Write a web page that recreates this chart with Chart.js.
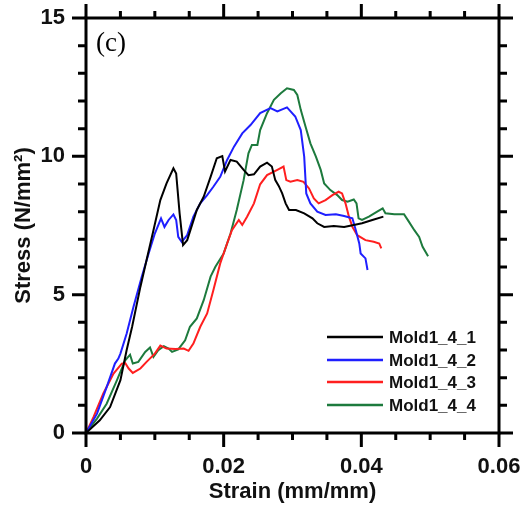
<!DOCTYPE html>
<html>
<head>
<meta charset="utf-8">
<script src="https://cdn.jsdelivr.net/npm/chart.js@4/dist/chart.umd.min.js"></script>
<style>
  html, body { margin: 0; padding: 0; background: #fff; }
  #wrap { width: 524px; height: 514px; }
</style>
</head>
<body>
<div id="wrap"><canvas id="c" width="524" height="514"></canvas></div>
<script>
// Tensile test curves, Mold1_4 specimens
const seriesNames = ['Mold1_4_1', 'Mold1_4_2', 'Mold1_4_3', 'Mold1_4_4'];

const strain1 = [0, 0.0020, 0.0035, 0.0050, 0.0059, 0.0067, 0.0079, 0.0088, 0.0098, 0.0108, 0.0117, 0.0127, 0.0131, 0.0136, 0.0141, 0.0147, 0.0161, 0.0171, 0.0181, 0.0190, 0.0198, 0.0202, 0.0210, 0.0219, 0.0229, 0.0236, 0.0244, 0.0253, 0.0263, 0.0270, 0.0275, 0.0280, 0.0285, 0.0290, 0.0295, 0.0305, 0.0317, 0.0329, 0.0336, 0.0346, 0.0360, 0.0375, 0.0389, 0.0401, 0.0416, 0.0432];
const stress1 = [0, 0.46, 0.94, 1.91, 2.99, 3.84, 5.28, 6.25, 7.33, 8.42, 9.02, 9.57, 9.38, 7.94, 6.79, 6.97, 8.06, 8.54, 9.26, 9.93, 10.01, 9.45, 9.87, 9.81, 9.51, 9.32, 9.35, 9.63, 9.77, 9.63, 9.14, 8.93, 8.66, 8.30, 8.06, 8.06, 7.94, 7.76, 7.58, 7.45, 7.48, 7.45, 7.52, 7.58, 7.70, 7.82];

const strain2 = [0, 0.0016, 0.0030, 0.0042, 0.0047, 0.0050, 0.0059, 0.0069, 0.0081, 0.0091, 0.0100, 0.0109, 0.0114, 0.0120, 0.0127, 0.0131, 0.0134, 0.0139, 0.0147, 0.0156, 0.0166, 0.0176, 0.0185, 0.0195, 0.0205, 0.0215, 0.0227, 0.0239, 0.0253, 0.0268, 0.0278, 0.0292, 0.0304, 0.0312, 0.0317, 0.0320, 0.0326, 0.0336, 0.0348, 0.0363, 0.0375, 0.0387, 0.0392, 0.0397, 0.0399, 0.0406, 0.0409];
const stress2 = [0, 0.70, 1.66, 2.51, 2.69, 2.87, 3.59, 4.56, 5.65, 6.49, 7.21, 7.76, 7.45, 7.70, 7.90, 7.70, 7.09, 6.91, 7.15, 7.82, 8.30, 8.60, 8.90, 9.26, 9.87, 10.35, 10.83, 11.13, 11.56, 11.74, 11.62, 11.77, 11.44, 10.95, 9.99, 8.66, 8.30, 8.00, 7.88, 7.91, 7.84, 7.76, 7.33, 6.85, 6.49, 6.31, 5.89];

const strain3 = [0, 0.0011, 0.0025, 0.0040, 0.0052, 0.0057, 0.0062, 0.0068, 0.0079, 0.0088, 0.0100, 0.0108, 0.0117, 0.0130, 0.0142, 0.0149, 0.0156, 0.0166, 0.0176, 0.0185, 0.0195, 0.0205, 0.0212, 0.0222, 0.0227, 0.0234, 0.0244, 0.0253, 0.0263, 0.0278, 0.0287, 0.0291, 0.0297, 0.0307, 0.0316, 0.0324, 0.0331, 0.0338, 0.0348, 0.0358, 0.0367, 0.0372, 0.0377, 0.0382, 0.0387, 0.0394, 0.0406, 0.0418, 0.0426, 0.0429];
const stress3 = [0, 0.58, 1.42, 2.15, 2.51, 2.53, 2.33, 2.17, 2.33, 2.57, 2.87, 3.16, 3.05, 3.04, 3.05, 2.97, 3.23, 3.84, 4.32, 5.16, 6.13, 6.85, 7.33, 7.70, 7.52, 7.82, 8.30, 8.99, 9.32, 9.51, 9.63, 9.14, 9.08, 9.14, 9.08, 8.84, 8.48, 8.30, 8.42, 8.60, 8.72, 8.66, 8.30, 7.82, 7.45, 7.15, 6.97, 6.91, 6.85, 6.67];

const strain4 = [0, 0.0016, 0.0030, 0.0045, 0.0057, 0.0064, 0.0068, 0.0076, 0.0086, 0.0093, 0.0098, 0.0105, 0.0113, 0.0120, 0.0125, 0.0134, 0.0144, 0.0151, 0.0161, 0.0171, 0.0181, 0.0188, 0.0200, 0.0210, 0.0219, 0.0229, 0.0236, 0.0241, 0.0249, 0.0253, 0.0263, 0.0273, 0.0283, 0.0292, 0.0302, 0.0307, 0.0312, 0.0319, 0.0326, 0.0334, 0.0341, 0.0346, 0.0355, 0.0365, 0.0372, 0.0380, 0.0389, 0.0393, 0.0396, 0.0401, 0.0411, 0.0423, 0.0431, 0.0435, 0.0448, 0.0462, 0.0469, 0.0477, 0.0484, 0.0489, 0.0497];
const stress4 = [0, 0.52, 1.06, 1.91, 2.63, 2.83, 2.51, 2.57, 2.93, 3.09, 2.75, 2.99, 3.14, 3.05, 2.93, 3.02, 3.35, 3.84, 4.14, 4.80, 5.65, 6.01, 6.49, 7.21, 8.06, 9.14, 10.11, 10.41, 10.41, 10.95, 11.56, 12.04, 12.28, 12.46, 12.40, 12.22, 11.68, 11.07, 10.47, 9.99, 9.51, 9.02, 8.78, 8.60, 8.42, 8.36, 8.44, 8.30, 7.76, 7.70, 7.82, 8.00, 8.12, 7.94, 7.91, 7.91, 7.64, 7.33, 7.09, 6.73, 6.39];

// Axis ranges and tick spacing
const xMin = 0, xMax = 0.06, xMajor = 0.02, xMinor = 0.005;
const yMin = 0, yMax = 15, yMajor = 5, yMinor = 1;
const xTitle = 'Strain (mm/mm)';
const yTitle = 'Stress (N/mm\u00B2)';
const panelLabel = '(c)';

const colors = ['#000000', '#1f1fff', '#ff1f1f', '#1d7a3d'];
const strains = [strain1, strain2, strain3, strain4];
const stresses = [stress1, stress2, stress3, stress4];

const toPoints = (xs, ys) => xs.map((x, i) => ({ x: x, y: ys[i] }));

const datasets = seriesNames.map((name, i) => ({
  label: name,
  data: toPoints(strains[i], stresses[i]),
  borderColor: colors[i],
  backgroundColor: colors[i],
  borderWidth: 2,
  pointRadius: 0,
  tension: 0,
  fill: false
}));

const SANS = '"Liberation Sans", Arial, sans-serif';

// Boxed frame with outward major/minor ticks on all four sides
const framePlugin = {
  id: 'frame',
  afterDatasetsDraw(chart) {
    const { ctx, chartArea: a, scales: { x, y } } = chart;
    ctx.save();
    ctx.strokeStyle = '#000';
    ctx.lineWidth = 3;
    ctx.lineCap = 'butt';
    ctx.beginPath();
    ctx.rect(a.left, a.top, a.right - a.left, a.bottom - a.top);
    ctx.stroke();
    const majorLen = 14, minorLen = 7;
    const nx = Math.round((xMax - xMin) / xMinor);
    for (let i = 0; i <= nx; i++) {
      const v = xMin + i * xMinor;
      const px = x.getPixelForValue(v);
      const isMajor = i % Math.round(xMajor / xMinor) === 0;
      const len = isMajor ? majorLen : minorLen;
      ctx.beginPath();
      ctx.moveTo(px, a.bottom); ctx.lineTo(px, a.bottom + len);
      ctx.moveTo(px, a.top); ctx.lineTo(px, a.top - len);
      ctx.stroke();
    }
    const ny = Math.round((yMax - yMin) / yMinor);
    for (let i = 0; i <= ny; i++) {
      const v = yMin + i * yMinor;
      const py = y.getPixelForValue(v);
      const isMajor = i % Math.round(yMajor / yMinor) === 0;
      const len = isMajor ? majorLen : minorLen + 1;
      ctx.beginPath();
      ctx.moveTo(a.left, py); ctx.lineTo(a.left - len, py);
      ctx.moveTo(a.right, py); ctx.lineTo(a.right + len, py);
      ctx.stroke();
    }
    ctx.restore();
  }
};

// Panel letter and line legend inside the plot
const annotatePlugin = {
  id: 'annotate',
  afterDraw(chart) {
    const { ctx } = chart;
    ctx.save();
    ctx.fillStyle = '#000';
    ctx.font = '27px "Liberation Serif", "Times New Roman", serif';
    ctx.textAlign = 'left';
    ctx.textBaseline = 'middle';
    ctx.fillText(panelLabel, 96, 44);

    const rows = [337, 360, 382, 405];
    ctx.font = 'bold 17px ' + SANS;
    chart.data.datasets.forEach((ds, i) => {
      const yy = rows[i];
      ctx.strokeStyle = ds.borderColor;
      ctx.lineWidth = 2.5;
      ctx.beginPath();
      ctx.moveTo(327, yy); ctx.lineTo(383, yy);
      ctx.stroke();
      ctx.fillStyle = '#111';
      ctx.fillText(ds.label, 389, yy + 1);
    });
    ctx.restore();
  }
};

new Chart(document.getElementById('c'), {
  type: 'line',
  data: { datasets: datasets },
  plugins: [framePlugin, annotatePlugin],
  options: {
    responsive: false,
    animation: false,
    parsing: true,
    layout: { padding: { left: 0, right: 25, top: 18, bottom: 0 } },
    plugins: { legend: { display: false }, tooltip: { enabled: false } },
    scales: {
      x: {
        type: 'linear',
        min: xMin, max: xMax,
        afterFit: s => { s.height = 81; s.paddingLeft = 0; s.paddingRight = 0; },
        border: { display: false },
        grid: { display: false, drawTicks: false, tickLength: 0 },
        ticks: {
          stepSize: xMajor,
          padding: 21,
          color: '#111',
          maxRotation: 0,
          font: { family: SANS, size: 22, weight: 'bold' },
          callback: v => (Math.abs(v) < 1e-9 ? '0' : v.toFixed(2))
        },
        title: {
          display: true,
          text: xTitle,
          color: '#111',
          font: { family: SANS, size: 22, weight: 'bold', lineHeight: 1 },
          padding: { top: 0, bottom: 11 }
        }
      },
      y: {
        type: 'linear',
        min: yMin, max: yMax,
        afterFit: s => { s.width = 86; s.paddingTop = 0; s.paddingBottom = 0; },
        border: { display: false },
        grid: { display: false, drawTicks: false, tickLength: 0 },
        ticks: {
          stepSize: yMajor,
          padding: 21,
          color: '#111',
          font: { family: SANS, size: 22, weight: 'bold' }
        },
        title: {
          display: true,
          text: yTitle,
          color: '#111',
          font: { family: SANS, size: 22, weight: 'bold', lineHeight: 1 },
          padding: { top: 13, bottom: 0 }
        }
      }
    }
  }
});
</script>
</body>
</html>
